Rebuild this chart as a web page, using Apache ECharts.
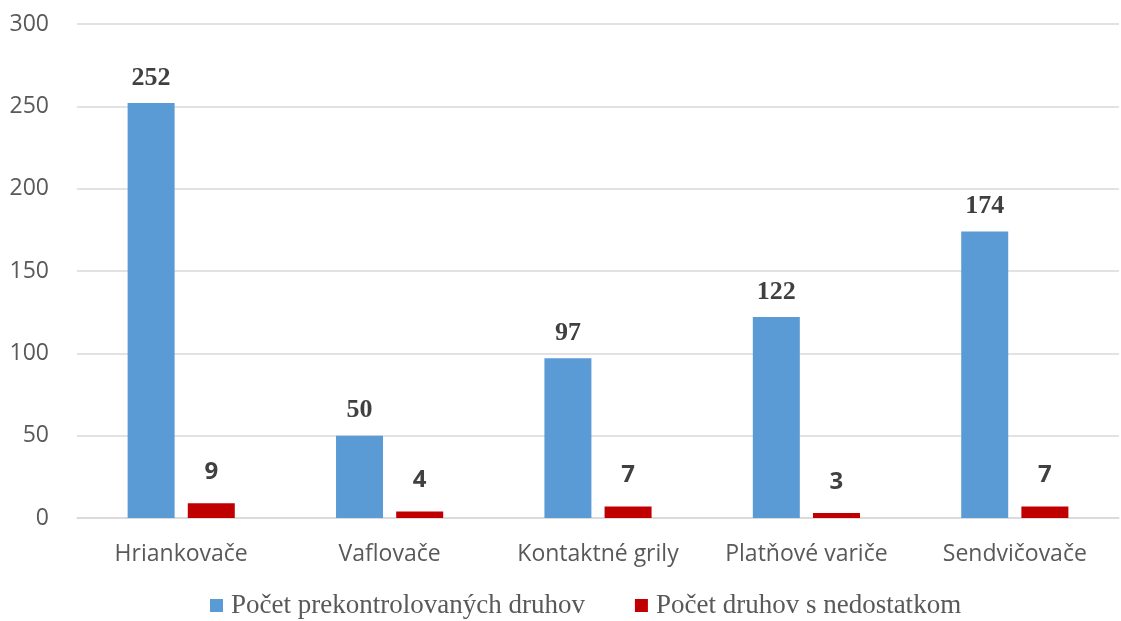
<!DOCTYPE html>
<html><head><meta charset="utf-8">
<script src="https://cdn.jsdelivr.net/npm/echarts@6/dist/echarts.min.js"></script>
<style>html,body{margin:0;padding:0;background:#fff}#c{width:1121px;height:621px}</style>
</head><body><div id="c"></div>
<script>
const categories = ['Hriankovače','Vaflovače','Kontaktné grily','Platňové variče','Sendvičovače'];
const checked = [252, 50, 97, 122, 174];
const defects = [9, 4, 7, 3, 7];
const seriesNames = ['Počet prekontrolovaných druhov','Počet druhov s nedostatkom'];
const chart = echarts.init(document.getElementById('c'));
chart.setOption({
  animation:false,
  grid:{left:77,right:2,top:24,bottom:103},
  legend:{top:587,left:205,itemWidth:13,itemHeight:13,itemGap:50,icon:'rect',
    textStyle:{fontFamily:'Liberation Serif',fontSize:27,color:'#595959',padding:[0,0,0,3]}},
  xAxis:{type:'category',data:categories,axisTick:{show:false},
    axisLine:{lineStyle:{color:'#d9d9d9',width:1.5}},
    axisLabel:{interval:0,fontFamily:'Open Sans',fontSize:23,color:'#595959',margin:25}},
  yAxis:{type:'value',min:0,max:300,interval:50,
    axisLabel:{fontFamily:'Open Sans',fontSize:23,color:'#595959',margin:28},
    splitLine:{lineStyle:{color:'#d9d9d9',width:1.5}}},
  series:[
    {name:seriesNames[0],type:'bar',data:checked,barWidth:47,barGap:'28%',
     itemStyle:{color:'#5B9BD5'},
     label:{show:true,position:'top',distance:12,fontFamily:'Liberation Serif',fontWeight:'bold',fontSize:26,color:'#404040'}},
    {name:seriesNames[1],type:'bar',data:defects,barWidth:47,
     itemStyle:{color:'#C00000'},
     label:{show:true,position:'top',distance:19,fontFamily:'Open Sans',fontWeight:'bold',fontSize:24,color:'#404040'}}
  ]
});
</script></body></html>
